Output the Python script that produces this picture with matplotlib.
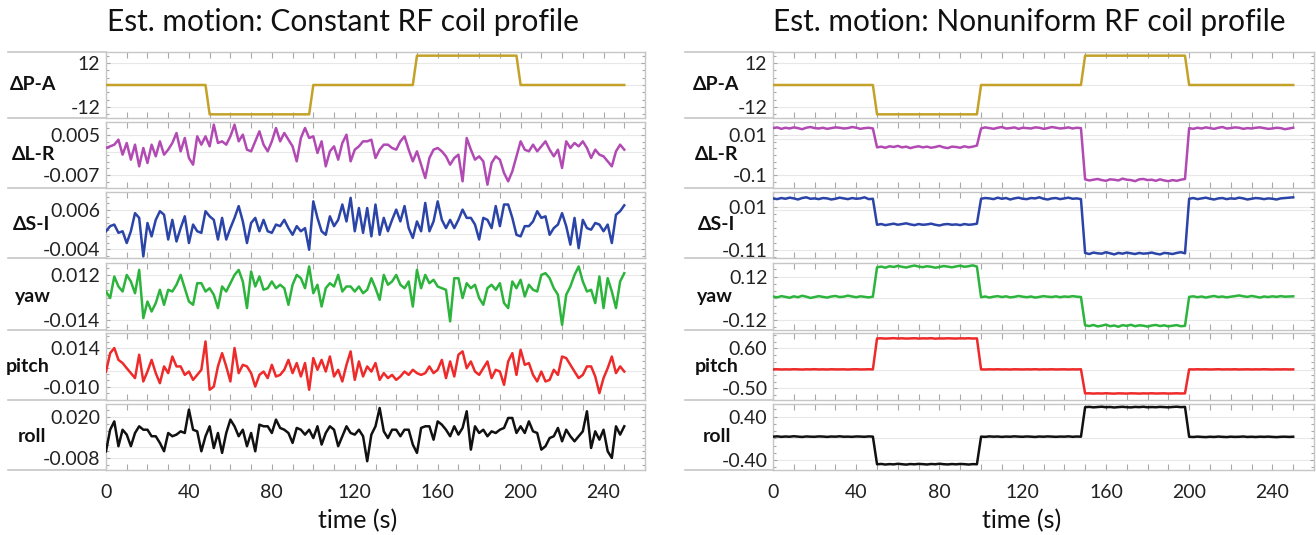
import matplotlib
matplotlib.use("Agg")
import matplotlib.pyplot as plt
from matplotlib.lines import Line2D
from matplotlib.ticker import FixedLocator, FixedFormatter, AutoMinorLocator, MultipleLocator
import numpy as np

plt.rcParams['font.family'] = ['Lato', 'DejaVu Sans']

dt = 2  # seconds between samples

row_names = ['\u0394P-A', '\u0394L-R', '\u0394S-I', 'yaw', 'pitch', 'roll']
colors = ['#c4a22a', '#b24ab4', '#2b44a8', '#2cb43c', '#ee2a2a', '#111111']
x_ticks = [0, 40, 80, 120, 160, 200, 240]

### Constant RF coil profile (values in 1e-3 units except P-A) ###

pa_const = [0] * 25 + [-16] * 25 + [0] * 25 + [16] * 25 + [0] * 26

lr_const_milli = [
    1.1, 1.6, 2.1, 3.6, -0.9, 2.6, -2.4, 2.1, -4.4, 1.1, -3.4, 2.1, -1.4, 3.1,
    -0.9, 0.6, 2.6, 5.6, 0.1, 4.1, -1.9, -3.9, 4.6, 2.1, 4.6, 1.6, 8.1, 2.6,
    3.1, 2.1, 4.6, 8.1, 3.1, 5.1, 0.6, 0.1, 3.1, 6.1, 2.1, 0.1, 3.1, 7.1,
    3.1, 5.6, 3.6, 1.6, -2.9, 4.1, 7.1, 4.1, 4.6, -0.4, 3.1, -4.4, 0.1, 1.6,
    -2.4, 2.6, 5.1, -2.9, 0.6, 1.6, 3.1, 3.1, 3.6, -1.9, 0.6, 2.1, 2.1, 1.1,
    0.6, 3.1, 4.6, 0.6, -2.9, 0.1, -3.9, -7.9, -1.9, 0.6, 1.1, 0.1, -1.4, -3.9,
    -1.9, -0.9, -8.9, 4.1, 0.6, -2.4, -1.4, -2.9, -9.9, -3.4, -1.4, -2.4, -6.4, -8.9,
    -5.9, -1.4, 3.1, 0.6, 0.1, 2.1, 0.1, 1.6, 3.1, 0.6, -1.4, 0.6, -4.9, 3.1,
    1.1, 2.6, 1.6, 3.1, 1.1, -1.9, 0.6, -0.9, -1.4, -2.9, -4.4, 0.1, 2.1, 0.6]

si_const_milli = [
    0.6, 1.9, 2.3, 0.2, 0.6, -2.4, 0.6, 5.2, 4.0, -5.8, 2.7, -0.7, 3.5, 5.7,
    4.8, -1.5, 3.5, -2.0, 1.4, 4.4, -2.4, 2.3, 0.6, 0.2, 5.7, 4.4, 3.5, -1.5,
    4.0, -1.5, 1.4, 4.0, 7.0, 3.1, -2.4, 2.7, 4.0, 0.6, 3.5, 0.6, 0.2, 2.3,
    1.9, 3.5, 1.4, -0.3, 1.9, 0.6, 1.4, -4.1, 8.2, 4.0, 0.6, -0.3, 4.4, 1.9,
    3.5, 7.4, 3.1, 9.1, 0.6, 6.5, 0.2, 6.5, -0.7, 7.4, -0.3, 4.0, 0.6, 3.5,
    6.1, 3.1, 7.0, 1.4, -1.1, 3.1, 0.6, 7.8, 0.6, 3.1, 8.2, 3.5, 1.4, 3.5,
    1.4, 3.5, 6.1, 4.0, 4.0, 2.3, -1.5, 4.0, 3.5, 1.4, 7.0, 1.9, 7.4, 7.4,
    4.0, -0.3, -0.7, 1.9, 1.9, 3.1, 5.7, 4.0, 4.4, -0.3, 1.4, 2.3, 5.2, 1.9,
    -2.8, 4.0, -3.7, 3.5, 1.4, 1.0, 2.7, 2.3, 0.6, 2.3, -2.4, 4.8, 5.7, 7.2]

yaw_const_milli = [
    2.5, -1.3, 11.2, 5.4, 2.5, 12.1, 8.3, 1.5, 15.0, -12.9, -3.3, -9.1, -4.2, 3.5,
    -5.2, 3.5, 2.5, 6.4, 12.1, 4.4, -3.3, -5.2, 7.3, 7.3, 2.5, 4.4, 0.6, -7.1,
    5.4, 2.5, 7.3, 12.1, 15.0, 8.3, -7.1, 14.1, 5.4, 11.2, 3.5, 4.4, 8.3, 4.4,
    6.4, 4.4, -5.2, 6.4, 12.1, 10.2, 4.4, 17.0, 1.5, 6.4, -6.2, 4.4, 7.3, 5.4,
    12.1, 2.5, 5.4, 5.4, 2.5, 5.4, 1.5, 3.5, 10.2, 4.4, -2.3, 12.1, 6.4, 8.3,
    12.1, 6.4, 4.4, 8.3, -6.2, 15.0, 4.4, 12.1, 7.3, 9.3, 5.4, 4.4, 3.5, -14.8,
    10.2, 10.2, -1.3, 7.3, 4.4, 6.4, -1.3, -5.2, 4.4, 6.4, 3.5, 7.3, -4.2, -7.1,
    8.3, 4.4, 9.3, -0.4, 6.4, 3.5, 2.5, 12.1, 13.1, 10.2, 4.4, 0.6, -16.8, 0.6,
    5.4, 12.1, 17.0, 8.3, 2.5, 3.5, -4.2, 11.2, -7.1, 10.2, 2.5, -7.1, 8.3, 13.1]

pitch_const_milli = [
    -0.5, 11.0, 14.2, 6.8, 4.8, 1.6, -1.5, -4.6, 10.0, -6.7, -0.5, 6.8, -1.5, -7.8,
    2.7, -1.5, 8.9, 2.7, 2.7, -2.6, -0.5, -5.7, -2.6, 0.6, 18.3, -11.9, -9.9, 2.7,
    11.0, 2.7, -6.7, 14.2, -1.5, 3.7, 2.7, -1.5, -9.9, -2.6, -0.5, -4.6, 3.7, -3.6,
    -2.6, 0.6, 6.8, -1.5, 4.8, -3.6, 4.8, -11.9, 7.9, 0.6, 6.8, -0.5, 8.9, -3.6,
    0.6, -6.7, 3.7, 12.1, -5.7, 5.8, -3.6, 2.7, -0.5, 4.8, -5.7, -1.5, -4.6, -2.6,
    -5.7, -3.6, -0.5, -2.6, 0.6, -1.5, -2.6, -1.5, 2.7, -1.5, 0.6, 6.8, -4.6, 5.8,
    -3.6, 10.0, 12.1, 1.6, 5.8, -0.5, -2.6, 1.6, 5.8, -4.6, 0.6, -0.5, -8.8, 5.8,
    11.0, -2.6, 13.1, 3.7, 4.8, -2.6, -6.7, -0.5, -6.7, -5.7, 0.6, -2.6, 8.9, 7.9,
    3.7, -0.5, -4.6, -2.6, 2.7, 2.7, -3.6, -14.0, -4.6, 1.6, 8.9, -1.5, 2.7, -0.5]

roll_const_milli = [
    -3.2, 11.3, 16.9, 0.2, 11.3, 8.0, 0.2, 9.1, 13.6, 11.3, 11.3, 6.9, 6.9, 2.4,
    -3.2, 9.1, 6.9, 8.0, 10.2, 9.1, 24.8, 11.3, 10.2, -3.2, 6.9, 13.6, -1.0, 9.1,
    -4.3, 9.1, 18.1, 13.6, 6.9, 11.3, 0.2, 9.1, -3.2, 14.7, 13.6, 13.6, 9.1, 18.1,
    12.5, 11.3, 9.1, 2.4, 12.5, 11.3, 8.0, 11.3, 5.7, 13.6, 1.3, 9.1, 13.6, 11.3,
    0.2, 6.9, 13.6, 9.1, 8.0, 11.3, 6.9, -9.9, 8.0, 13.6, 25.9, 10.2, 5.7, 11.3,
    11.3, 6.9, 11.3, 11.3, 1.3, -4.3, 12.5, 13.6, 13.6, 4.6, 16.9, 14.7, 11.3, 6.9,
    13.6, 8.0, 12.5, 23.7, -2.1, 13.6, 9.1, 11.3, 6.9, 10.2, 9.1, 11.3, 12.5, 19.2,
    19.2, 9.1, 13.6, 9.1, 16.9, 10.2, 9.1, -2.1, 0.2, 5.7, 6.9, 12.5, 3.5, 11.3,
    6.9, 3.5, 6.9, 10.2, 23.7, -1.0, 10.2, 4.6, 11.3, -3.2, -7.7, 13.6, 8.0, 13.6]

### Nonuniform RF coil profile ###

pa_nonu = [0] * 25 + [-16] * 25 + [0] * 25 + [16] * 25 + [0] * 26

lr_nonu = (
    [0.029, 0.031, 0.027, 0.030, 0.028, 0.031, 0.029, 0.026, 0.030, 0.032, 0.029, 0.028, 0.030,
     0.027, 0.029, 0.031, 0.030, 0.028, 0.029, 0.032, 0.030, 0.027, 0.029, 0.030, 0.028]
    + [-0.024, -0.022, -0.025, -0.021, -0.023, -0.020, -0.024, -0.022, -0.026, -0.023, -0.021, -0.024, -0.022,
       -0.025, -0.023, -0.020, -0.024, -0.026, -0.022, -0.023, -0.025, -0.021, -0.024, -0.022, -0.019]
    + [0.028, 0.031, 0.029, 0.027, 0.030, 0.032, 0.028, 0.029, 0.031, 0.027, 0.030, 0.029, 0.028,
       0.031, 0.030, 0.027, 0.029, 0.032, 0.030, 0.028, 0.029, 0.031, 0.028, 0.030, 0.029]
    + [-0.112, -0.115, -0.113, -0.111, -0.114, -0.116, -0.112, -0.113, -0.115, -0.110, -0.113, -0.114, -0.117,
       -0.112, -0.111, -0.114, -0.113, -0.116, -0.112, -0.115, -0.117, -0.114, -0.116, -0.113, -0.111]
    + [0.029, 0.027, 0.030, 0.028, 0.031, 0.029, 0.027, 0.030, 0.032, 0.028, 0.029, 0.031, 0.030,
       0.027, 0.029, 0.028, 0.030, 0.031, 0.029, 0.027, 0.028, 0.030, 0.029, 0.026, 0.028, 0.030])

si_nonu = (
    [0.033, 0.031, 0.034, 0.032, 0.035, 0.033, 0.030, 0.034, 0.036, 0.032, 0.033, 0.031, 0.034,
     0.033, 0.030, 0.032, 0.035, 0.033, 0.031, 0.034, 0.032, 0.033, 0.036, 0.031, 0.032]
    + [-0.040, -0.038, -0.041, -0.039, -0.037, -0.040, -0.038, -0.036, -0.039, -0.041, -0.038, -0.040, -0.039,
       -0.037, -0.040, -0.042, -0.039, -0.038, -0.040, -0.039, -0.041, -0.038, -0.040, -0.039, -0.037]
    + [0.032, 0.034, 0.033, 0.031, 0.035, 0.032, 0.034, 0.030, 0.033, 0.035, 0.032, 0.031, 0.034,
       0.033, 0.036, 0.032, 0.030, 0.033, 0.034, 0.031, 0.033, 0.035, 0.032, 0.033, 0.031]
    + [-0.118, -0.121, -0.117, -0.119, -0.120, -0.116, -0.119, -0.122, -0.118, -0.120, -0.117, -0.119, -0.121,
       -0.118, -0.120, -0.119, -0.117, -0.120, -0.122, -0.118, -0.119, -0.121, -0.118, -0.116, -0.119]
    + [0.032, 0.034, 0.031, 0.033, 0.035, 0.032, 0.030, 0.033, 0.034, 0.031, 0.033, 0.032, 0.035,
       0.033, 0.030, 0.032, 0.034, 0.033, 0.031, 0.033, 0.032, 0.030, 0.033, 0.034, 0.035, 0.036])

yaw_nonu = (
    [0.010, 0.005, 0.012, 0.008, 0.003, 0.011, 0.006, 0.014, 0.009, 0.002, 0.007, 0.012, 0.008,
     0.004, 0.010, 0.013, 0.007, 0.009, 0.015, 0.010, 0.006, 0.011, 0.008, 0.005, 0.009]
    + [0.172, 0.176, 0.170, 0.178, 0.174, 0.180, 0.175, 0.171, 0.177, 0.182, 0.176, 0.173, 0.178,
       0.175, 0.170, 0.174, 0.179, 0.176, 0.172, 0.177, 0.181, 0.175, 0.178, 0.183, 0.176]
    + [0.006, 0.010, 0.004, 0.009, 0.012, 0.007, 0.011, 0.005, 0.008, 0.013, 0.009, 0.006, 0.010,
       0.004, 0.008, 0.012, 0.009, 0.007, 0.011, 0.006, 0.010, 0.008, 0.012, 0.009, 0.007]
    + [-0.150, -0.154, -0.148, -0.156, -0.152, -0.146, -0.155, -0.151, -0.158, -0.149, -0.153, -0.147, -0.155,
       -0.150, -0.152, -0.157, -0.151, -0.148, -0.154, -0.150, -0.156, -0.152, -0.149, -0.155, -0.153]
    + [0.008, 0.011, 0.006, 0.010, 0.004, 0.009, 0.013, 0.007, 0.010, 0.005, 0.009, 0.012, 0.016,
       0.011, 0.008, 0.013, 0.009, 0.004, 0.010, 0.007, 0.011, 0.008, 0.012, 0.009, 0.010, 0.011])

pitch_nonu = (
    [0.020, 0.024, 0.018, 0.022, 0.019, 0.025, 0.021, 0.017, 0.023, 0.020, 0.026, 0.019, 0.022,
     0.018, 0.024, 0.021, 0.020, 0.023, 0.017, 0.022, 0.025, 0.019, 0.021, 0.024, 0.020]
    + [0.870, 0.875, 0.866, 0.872, 0.878, 0.869, 0.874, 0.867, 0.871, 0.876, 0.868, 0.873, 0.870,
       0.877, 0.865, 0.872, 0.869, 0.875, 0.871, 0.867, 0.874, 0.870, 0.876, 0.868, 0.872]
    + [0.021, 0.018, 0.023, 0.020, 0.025, 0.019, 0.022, 0.017, 0.024, 0.021, 0.019, 0.023, 0.020,
       0.026, 0.018, 0.022, 0.020, 0.024, 0.019, 0.021, 0.023, 0.018, 0.022, 0.020, 0.024]
    + [-0.640, -0.636, -0.644, -0.638, -0.642, -0.635, -0.641, -0.645, -0.637, -0.640, -0.643, -0.636, -0.639,
       -0.644, -0.638, -0.641, -0.635, -0.642, -0.639, -0.637, -0.643, -0.640, -0.636, -0.641, -0.638]
    + [0.022, 0.019, 0.024, 0.020, 0.023, 0.018, 0.021, 0.025, 0.019, 0.022, 0.020, 0.024, 0.018,
       0.021, 0.023, 0.019, 0.022, 0.020, 0.025, 0.021, 0.018, 0.022, 0.020, 0.023, 0.019, 0.021])

roll_nonu = (
    [0.030, 0.036, 0.027, 0.033, 0.029, 0.038, 0.031, 0.025, 0.034, 0.030, 0.028, 0.035, 0.032,
     0.026, 0.033, 0.030, 0.037, 0.029, 0.031, 0.027, 0.034, 0.032, 0.028, 0.035, 0.031]
    + [-0.480, -0.474, -0.485, -0.477, -0.482, -0.471, -0.479, -0.486, -0.476, -0.481, -0.473, -0.478, -0.484,
       -0.475, -0.480, -0.470, -0.479, -0.483, -0.476, -0.481, -0.474, -0.478, -0.485, -0.477, -0.480]
    + [0.031, 0.027, 0.035, 0.030, 0.033, 0.026, 0.032, 0.029, 0.036, 0.031, 0.028, 0.034, 0.030,
       0.025, 0.033, 0.029, 0.035, 0.031, 0.027, 0.032, 0.030, 0.036, 0.028, 0.033, 0.030]
    + [0.575, 0.581, 0.572, 0.578, 0.584, 0.574, 0.579, 0.570, 0.577, 0.582, 0.575, 0.571, 0.580,
       0.576, 0.583, 0.573, 0.578, 0.574, 0.581, 0.577, 0.572, 0.579, 0.584, 0.576, 0.580]
    + [0.028, 0.024, 0.031, 0.026, 0.022, 0.029, 0.025, 0.032, 0.027, 0.023, 0.030, 0.026, 0.028,
       0.033, 0.025, 0.029, 0.024, 0.030, 0.027, 0.031, 0.026, 0.022, 0.028, 0.030, 0.026, 0.029])

const_series = [np.array(pa_const, float),
                np.array(lr_const_milli) * 1e-3,
                np.array(si_const_milli) * 1e-3,
                np.array(yaw_const_milli) * 1e-3,
                np.array(pitch_const_milli) * 1e-3,
                np.array(roll_const_milli) * 1e-3]
nonu_series = [np.array(v, float) for v in
               [pa_nonu, lr_nonu, si_nonu, yaw_nonu, pitch_nonu, roll_nonu]]

const_ticks = [[12, -12], [0.005, -0.007], [0.006, -0.004],
               [0.012, -0.014], [0.014, -0.010], [0.020, -0.008]]
const_labels = [['12', '-12'], ['0.005', '-0.007'], ['0.006', '-0.004'],
                ['0.012', '-0.014'], ['0.014', '-0.010'], ['0.020', '-0.008']]
nonu_ticks = [[12, -12], [0.01, -0.1], [0.01, -0.11],
              [0.12, -0.12], [0.60, -0.50], [0.40, -0.40]]
nonu_labels = [['12', '-12'], ['0.01', '-0.1'], ['0.01', '-0.11'],
               ['0.12', '-0.12'], ['0.60', '-0.50'], ['0.40', '-0.40']]

# layout (pixels)
W, H = 1316, 535
row_px = [(52, 118), (122, 188), (192, 258), (263, 330), (333, 400), (404, 470)]
const_ylim = [(-18, 18), (-0.0109, 0.0089), (-0.0062, 0.01058),
              (-0.0198, 0.019), (-0.0183, 0.0236), (-0.0158, 0.0286)]
nonu_ylim = [(-18, 18), (-0.1358, 0.0458), (-0.132, 0.0507),
             (-0.176, 0.196), (-0.82, 1.02), (-0.586, 0.634)]

panels = [
    dict(x0=106, x1=645, sep_start=8, label_x=[33, 34, 32, 33, 28, 32], title_x=107,
         xlabel_x=358, title='Est. motion: Constant RF coil profile',
         series=const_series, ticks=const_ticks, labels=const_labels, ylim=const_ylim),
    dict(x0=773, x1=1314, sep_start=685, label_x=[716, 717, 717, 715, 717, 717], title_x=773,
         xlabel_x=1022, title='Est. motion: Nonuniform RF coil profile',
         series=nonu_series, ticks=nonu_ticks, labels=nonu_labels, ylim=nonu_ylim),
]

frame_gray = '#c6c6c6'
tick_gray = '#a8a8a8'
grid_gray = '#e8e8e8'

fig = plt.figure(figsize=(W / 100, H / 100), dpi=100)

for p in panels:
    for r, (top, bot) in enumerate(row_px):
        ax = fig.add_axes([p['x0'] / W, 1 - bot / H, (p['x1'] - p['x0']) / W, (bot - top) / H])
        y = p['series'][r]
        t = np.arange(len(y)) * dt
        ax.plot(t, y, color=colors[r], lw=1.8, zorder=3)

        ax.set_xlim(0, 260)
        ax.set_ylim(*p['ylim'][r])
        ax.yaxis.set_major_locator(FixedLocator(p['ticks'][r]))
        ax.yaxis.set_major_formatter(FixedFormatter(p['labels'][r]))
        ax.yaxis.set_minor_locator(AutoMinorLocator(6))
        ax.xaxis.set_major_locator(FixedLocator(x_ticks))
        ax.xaxis.set_minor_locator(MultipleLocator(10))

        for s in ax.spines.values():
            s.set_color(frame_gray)
            s.set_linewidth(1.0)
        ax.tick_params(axis='both', which='both', direction='in', color=tick_gray,
                       top=True, right=True, width=0.8)
        ax.tick_params(axis='x', which='both', length=4, labelbottom=(r == 5),
                       labelsize=14, pad=10, labelcolor='#222222')
        ax.tick_params(axis='y', which='major', length=3, labelsize=14, pad=4,
                       labelcolor='#222222')
        ax.tick_params(axis='y', which='minor', length=2)
        for v in list(p['ticks'][r]) + [0]:
            ax.axhline(v, color=grid_gray, lw=0.8, zorder=1)

        fig.text(p['label_x'][r] / W, 1 - (top + bot) / 2 / H, row_names[r],
                 ha='center', va='center', fontsize=14, fontweight='bold', color='#111111')

    # grey separators through the label column
    for yy in [row_px[0][0]] + [b for _, b in row_px]:
        fig.add_artist(Line2D([p['sep_start'] / W, p['x0'] / W], [1 - yy / H] * 2,
                              transform=fig.transFigure, color=frame_gray, lw=1.2))

    fig.text(p['title_x'] / W, 1 - 22 / H, p['title'], ha='left', va='center',
             fontsize=21.5, color='#111111')
    fig.text(p['xlabel_x'] / W, 1 - 521 / H, 'time (s)', ha='center', va='center',
             fontsize=18, color='#111111')

fig.savefig('out.png', dpi=100)
